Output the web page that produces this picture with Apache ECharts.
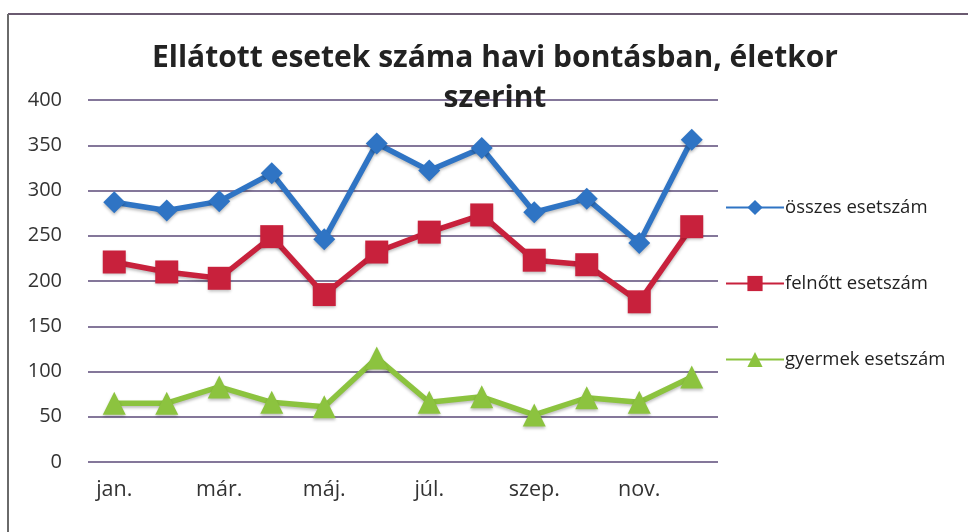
<!DOCTYPE html>
<html><head><meta charset="utf-8">
<script src="https://cdn.jsdelivr.net/npm/echarts@6/dist/echarts.min.js"></script>
<style>html,body{margin:0;padding:0;background:#fff}#c{width:968px;height:532px}</style>
</head><body><div id="c"></div>
<script>
const categories = ['jan.','febr.','már.','ápr.','máj.','jún.','júl.','aug.','szep.','okt.','nov.','dec.'];
const osszes = [287,278,288,319,246,352,322,347,276,291,242,356];
const felnott = [221,210,203,249,185,232,254,273,223,218,177,260];
const gyermek = [65,65,83,66,61,115,66,72,52,71,66,94];
const yTicks = [0,50,100,150,200,250,300,350,400];
const seriesNames = ['összes esetszám','felnőtt esetszám','gyermek esetszám'];

const FONT = '"Open Sans", Lato, sans-serif';
const chart = echarts.init(document.getElementById('c'));
function mk(name, data, color, symbol, size){
  return {name, type:'line', data, symbol, symbolSize:size, showSymbol:true,
    lineStyle:{color, width:5.5, shadowColor:'rgba(0,0,0,0.25)', shadowBlur:3, shadowOffsetY:2},
    itemStyle:{color, shadowColor:'rgba(0,0,0,0.25)', shadowBlur:3, shadowOffsetY:2},
    emphasis:{disabled:true}, animation:false};
}
chart.setOption({
  animation:false,
  title:{text:'Ellátott esetek száma havi bontásban, életkor\nszerint', left:490, textAlign:'center', top:33,
    textStyle:{fontFamily:FONT, fontWeight:'bold', fontSize:30, color:'#222', lineHeight:40}},
  graphic:[
    {type:'line', shape:{x1:8,y1:14,x2:968,y2:14}, style:{stroke:'#6a5a70', lineWidth:2}, z:100},
    {type:'line', shape:{x1:8,y1:14,x2:8,y2:532}, style:{stroke:'#6a6a6a', lineWidth:2}, z:100}
  ],
  legend:{orient:'vertical', left:720, top:193, itemGap:57, itemWidth:58, itemHeight:19,
    data:seriesNames,
    textStyle:{fontFamily:FONT, fontSize:18.5, color:'#222', padding:[0,0,0,-4]}},
  grid:{left:88, right:250, top:100, bottom:70},
  xAxis:{type:'category', data:categories, boundaryGap:true,
    axisLine:{show:false}, axisTick:{show:false},
    axisLabel:{interval:1, fontFamily:FONT, fontSize:21.5, color:'#333', margin:17}},
  yAxis:{type:'value', min:yTicks[0], max:yTicks[yTicks.length-1], interval:50,
    axisLine:{show:false}, axisTick:{show:false},
    axisLabel:{fontFamily:FONT, fontSize:20, color:'#333', margin:26},
    splitLine:{lineStyle:{color:'#5b4a78', width:1.5}}},
  series:[
    mk(seriesNames[0], osszes, '#2f74c4', 'diamond', 22),
    mk(seriesNames[1], felnott, '#c8213c', 'rect', 23),
    mk(seriesNames[2], gyermek, '#8cc33f', 'triangle', 23)
  ]
});
</script></body></html>
